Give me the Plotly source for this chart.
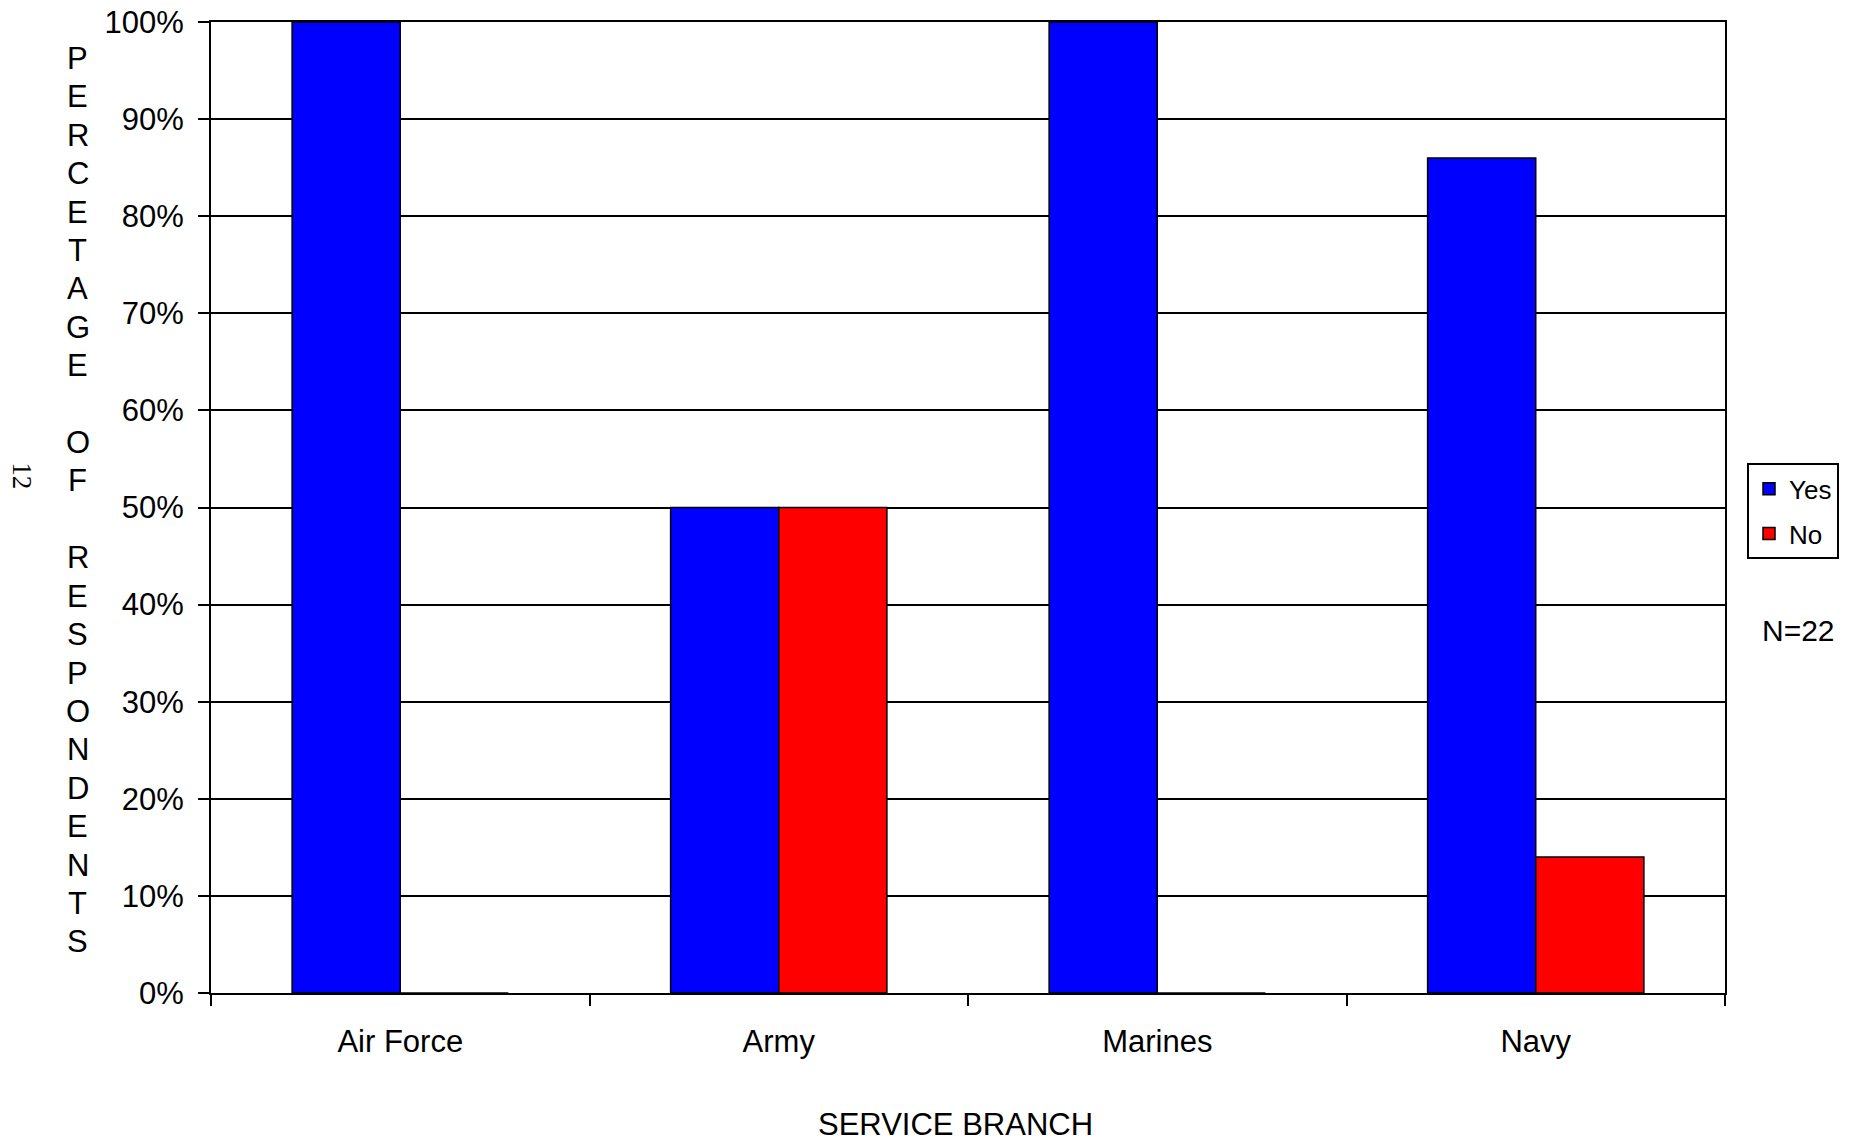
import plotly.graph_objects as go

categories = ["Air Force", "Army", "Marines", "Navy"]
yes_values = [100, 50, 100, 86]
no_values = [0, 50, 0, 14]
y_ticks = [0, 10, 20, 30, 40, 50, 60, 70, 80, 90, 100]
y_tick_labels = ["0%", "10%", "20%", "30%", "40%", "50%", "60%", "70%", "80%", "90%", "100%"]
y_title_letters = list("PERCETAGE") + [""] + list("OF") + [""] + list("RESPONDENTS")

FONT = "Liberation Sans, Arial, sans-serif"

fig = go.Figure()
fig.add_trace(go.Bar(name="Yes", x=categories, y=yes_values, marker=dict(color="#0000FF", line=dict(color="black", width=1.5)), legendgroup="a"))
fig.add_trace(go.Bar(name="No", x=categories, y=no_values, marker=dict(color="#FF0000", line=dict(color="black", width=1.5)), legendgroup="b"))

W, H = 1854, 1142
L, R, T, B = 211, 1725, 21.5, 993

def px(x):
    return (x - L) / (R - L)

def py(y):
    return (B - y) / (B - T)

annotations = []
for i, ch in enumerate(y_title_letters):
    if ch:
        annotations.append(dict(text=ch, xref="paper", yref="paper", x=px(77.5), y=py(58 + i * 38.43),
                                showarrow=False, xanchor="center", yanchor="middle",
                                font=dict(family=FONT, size=31, color="black")))
annotations.append(dict(text="12", xref="paper", yref="paper", x=px(22), y=py(475), showarrow=False,
                        textangle=90, xanchor="center", yanchor="middle",
                        font=dict(family="Liberation Serif, Times New Roman, serif", size=27, color="black")))
annotations.append(dict(text="N=22", xref="paper", yref="paper", x=px(1798), y=py(630), showarrow=False,
                        xanchor="center", yanchor="middle", font=dict(family=FONT, size=30, color="black")))
annotations.append(dict(text="SERVICE BRANCH", xref="paper", yref="paper", x=px(955), y=py(1125), showarrow=False,
                        xanchor="center", yanchor="middle", font=dict(family=FONT, size=31, color="black")))

fig.update_layout(
    width=W, height=H,
    margin=dict(l=L, r=W - R, t=T, b=H - B, pad=0, autoexpand=False),
    paper_bgcolor="white", plot_bgcolor="white",
    barmode="group", bargap=1.5 / 3.5, bargroupgap=0,
    font=dict(family=FONT, size=31, color="black"),
    showlegend=True,
    legend=dict(x=px(1747), y=py(463), xanchor="left", yanchor="top",
                bordercolor="black", borderwidth=2, bgcolor="white",
                font=dict(family=FONT, size=26, color="black"),
                traceorder="grouped", tracegroupgap=8, itemwidth=30),
    annotations=annotations,
)
fig.update_xaxes(type="category", showline=True, linecolor="black", linewidth=2, mirror=True,
                 ticks="outside", tickson="boundaries", ticklen=11, tickwidth=2, tickcolor="black",
                 showgrid=False, ticklabelstandoff=20, tickfont=dict(size=31), automargin=False)
fig.update_yaxes(range=[0, 100], tickmode="array", tickvals=y_ticks, ticktext=y_tick_labels, showline=True,
                 linecolor="black", linewidth=2, mirror=True, ticks="outside", ticklen=11, tickwidth=2,
                 tickcolor="black", showgrid=True, gridcolor="black", gridwidth=1.5, zeroline=False,
                 tickfont=dict(size=31), automargin=False, ticklabelstandoff=8)

fig.write_html("out.html", config={"displayModeBar": False},
               post_script="document.body.style.margin='0';document.body.style.padding='0';document.body.style.overflow='hidden';")
